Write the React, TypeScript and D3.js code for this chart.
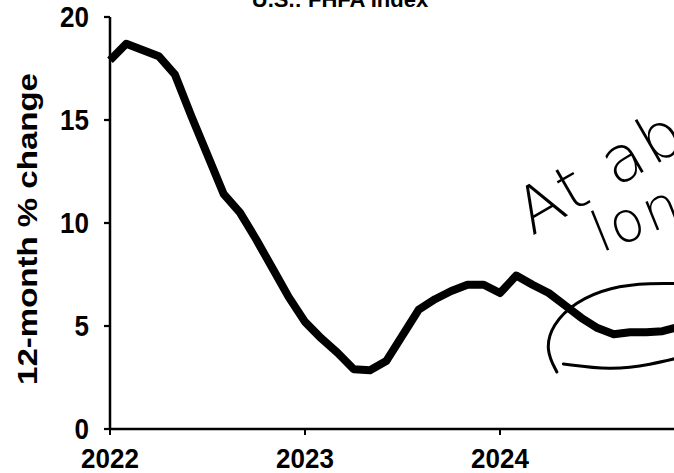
import * as d3 from "d3";

// FHFA house price index, 12-month % change, monthly Jan 2022 - Dec 2024
const years = ["2022", "2023", "2024"];
const yTicks = [0, 5, 10, 15, 20];
const values2022 = [17.9, 18.7, 18.4, 18.1, 17.2, 15.2, 13.3, 11.4, 10.5, 9.2, 7.8, 6.4];
const values2023 = [5.2, 4.4, 3.7, 2.9, 2.85, 3.3, 4.55, 5.8, 6.3, 6.7, 7.0, 7.0];
const values2024 = [6.6, 7.45, 7.0, 6.6, 6.0, 5.4, 4.9, 4.6, 4.7, 4.7, 4.75, 4.95];

// handwritten note, in [month index, value]
const ovalTop: [number, number][] = [
  [27.5, 2.77], [26.8, 3.83], [27.2, 5.05], [28.6, 6.17], [30.8, 6.9], [33.2, 7.09], [35.7, 7.04],
];
const ovalBottom: [number, number][] = [[27.9, 3.16], [30.8, 2.86], [33.2, 3.1], [35.7, 3.6]];

const W = 674;
const H = 473;
const font = "'Liberation Sans', Arial, sans-serif";

export default function App() {
  const series = [...values2022, ...values2023, ...values2024].map((v, i) => ({ i, v }));

  const x = d3.scaleLinear().domain([0, 36]).range([110, 695]);
  const y = d3.scaleLinear().domain([0, 20]).range([429, 17]);

  const line = d3.line<{ i: number; v: number }>()
    .x(d => x(d.i))
    .y(d => y(d.v));

  const hand = d3.line<[number, number]>()
    .x(d => x(d[0]))
    .y(d => y(d[1]))
    .curve(d3.curveBasis);

  return (
    <svg width={W} height={H} style={{ position: "fixed", left: 0, top: 0, background: "#fff" }}>
      <text x={340} y={7} textAnchor="middle" fontFamily={font} fontWeight="bold" fontSize={22}>
        U.S.: FHFA Index
      </text>

      {/* y axis */}
      <line x1={x(0)} x2={x(0)} y1={y(20)} y2={y(0)} stroke="#000" strokeWidth={2.5} />
      {yTicks.map(t => (
        <g key={t} transform={`translate(89,${y(t)}) scale(1,1.12)`}>
          <line x1={x(0) - 95} x2={x(0) - 89} y1={0} y2={0} stroke="#000" strokeWidth={2} />
          <text dy="0.36em" textAnchor="end" fontFamily={font} fontWeight="bold" fontSize={26}>
            {t}
          </text>
        </g>
      ))}
      <text
        transform={`translate(37,${(y(20) + y(0)) / 2 + 6}) rotate(-90) scale(1.18,1)`}
        textAnchor="middle"
        fontFamily={font}
        fontWeight="bold"
        fontSize={28}
      >
        12-month % change
      </text>

      {/* x axis */}
      <line x1={x(0) - 1} x2={W} y1={y(0)} y2={y(0)} stroke="#000" strokeWidth={2.5} />
      {years.map((yr, k) => (
        <g key={yr}>
          <line x1={x(k * 12)} x2={x(k * 12)} y1={y(0)} y2={y(0) + 6} stroke="#000" strokeWidth={2} />
          <text
            transform={`translate(${x(k * 12)},468) scale(1,1.08)`}
            textAnchor="middle"
            fontFamily={font}
            fontWeight="bold"
            fontSize={26}
          >
            {yr}
          </text>
        </g>
      ))}

      <path d={line(series) ?? ""} fill="none" stroke="#000" strokeWidth={8} strokeLinejoin="round" />

      {/* handwriting */}
      <g fontFamily="'DejaVu Sans', sans-serif" fontWeight={200} fill="#000">
        <text transform="translate(532,236) rotate(-30)" fontSize={64} letterSpacing={3}>
          At about
        </text>
        <text transform="translate(601,253) rotate(-22)" fontSize={56} letterSpacing={2}>
          long-run
        </text>
      </g>
      <path d={hand(ovalTop) ?? ""} fill="none" stroke="#000" strokeWidth={3} strokeLinecap="round" />
      <path d={hand(ovalBottom) ?? ""} fill="none" stroke="#000" strokeWidth={3} strokeLinecap="round" />
    </svg>
  );
}
